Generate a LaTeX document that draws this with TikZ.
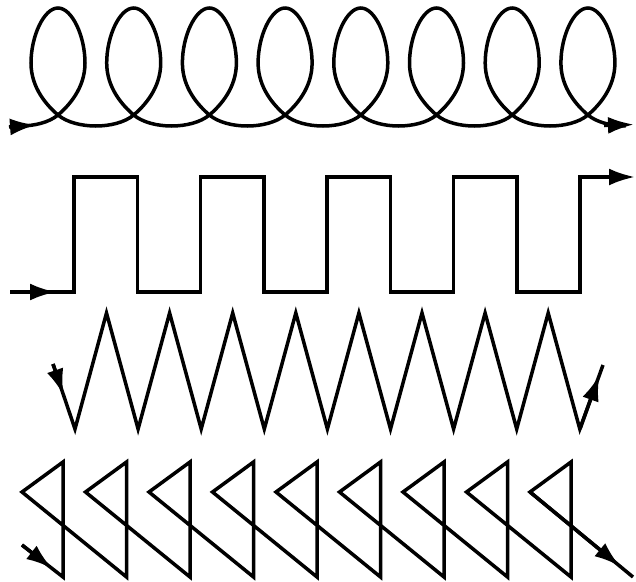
\documentclass[tikz,border=0pt]{standalone}
\usetikzlibrary{arrows.meta}
\begin{document}
\begin{tikzpicture}[x=1pt,y=-1pt,
  ln/.style={line width=3.5pt, line join=miter},
  arr/.style={ln,-{Latex[length=26pt,width=17pt]}}]
\useasboundingbox (0,0) rectangle (636,581);
% ---- coil ----
\draw[ln] (20.15,126)
  foreach \X in {58,133.7,209.4,285.1,360.8,436.5,512.2,587.9} {
    .. controls ({\X-23.85},126) and ({\X-9},122.5) .. (\X,115)
    .. controls ({\X+11},105.6) and ({\X+27},88) .. ({\X+27},63)
    .. controls ({\X+27},36) and ({\X+14},8) .. (\X,8)
    .. controls ({\X-14},8) and ({\X-27},36) .. ({\X-27},63)
    .. controls ({\X-27},88) and ({\X-11},105.6) .. (\X,115)
    .. controls ({\X+9},122.5) and ({\X+23.85},126) .. ({\X+37.85},126)
  };
\coordinate (cs) at (9,127);
\coordinate (ca) at (36,125);
\coordinate (ce0) at (604,125.5);
\coordinate (ce) at (634,124.5);
\draw[arr] (cs) -- (ca);
\draw[arr] (ce0) -- (ce);
% ---- square wave ----
\coordinate (ss) at (10,292);
\coordinate (sa) at (56,292);
\draw[arr] (ss)
  foreach \i in {0,...,3} {
    -- ({74+126.5*\i},292) -- ({74+126.5*\i},177)
    -- ({137.3+126.5*\i},177) -- ({137.3+126.5*\i},292) }
  -- (580,292) -- (580,177) -- (635,177);
\draw[arr] (ss) -- (sa);
% ---- zigzag ----
\coordinate (zs) at (53,364);
\coordinate (za) at (63.5,395);
\coordinate (zb) at (580,429);
\coordinate (zc) at (599.4,375);
\draw[ln] (zs) -- (75,429)
  foreach \i in {0,...,7} {
    -- ({106.5+63.1*\i},313) -- ({138.1+63.1*\i},429) }
  -- (603,365);
\draw[arr] (zs) -- (za);
\draw[arr] (zb) -- (zc);
% ---- triangles ----
\coordinate (ts) at (22,545);
\coordinate (ta) at (52,568.4);
\coordinate (tb) at (530,492);
\coordinate (tc) at (620,566.3);
\draw[ln] (ts)
  foreach \i in {0,...,8} {
    -- ({63+63.5*\i},577) -- ({63+63.5*\i},462) -- ({22+63.5*\i},492) }
  -- (633,577);
\draw[arr] (ts) -- (ta);
\draw[arr] (tb) -- (tc);
\end{tikzpicture}
\end{document}
